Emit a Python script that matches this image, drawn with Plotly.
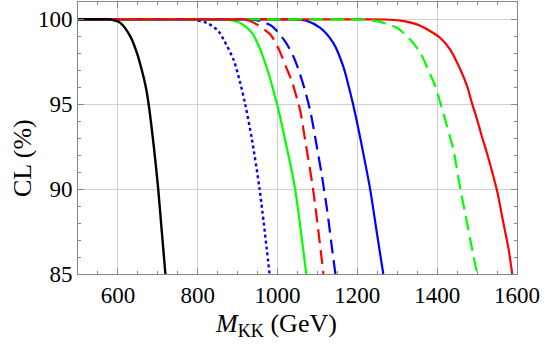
import plotly.graph_objects as go

# Data (M_KK in GeV, CL in %)
black_m = [500, 550, 580, 606, 631, 648, 660, 670, 677, 690, 701, 719]
black_cl = [100, 100, 100, 99.79, 99.0, 98.0, 97.0, 96.0, 95.0, 92.5, 90, 85]

bdot_m = [500, 600, 700, 760, 790, 823, 852, 865, 890, 906, 919, 936, 955, 980]
bdot_cl = [100, 100, 100, 100, 99.97, 99.79, 99.3, 98.8, 97.6, 96.3, 95.0, 92.9, 90, 85]

gsol_m = [500, 600, 700, 800, 850, 878, 906, 936, 957, 975, 992, 1005, 1018, 1030, 1044, 1072]
gsol_cl = [100, 100, 100, 100, 100, 99.97, 99.79, 99.2, 98.2, 97.0, 95.6, 94.4, 93.0, 91.7, 90, 85]

rdash_m = [500, 600, 700, 800, 880, 910, 930, 948, 982, 1002, 1023, 1036, 1049, 1057, 1069, 1089, 1115]
rdash_cl = [100, 100, 100, 100, 100, 100, 99.92, 99.7, 99.1, 98.3, 97.1, 96.35, 95.3, 94.6, 92.9, 90, 85]

bdash_m = [500, 600, 700, 800, 900, 935, 960, 986, 1019, 1040, 1053, 1069, 1082, 1094, 1111, 1124, 1136, 1145]
bdash_cl = [100, 100, 100, 100, 100, 99.98, 99.88, 99.6, 98.7, 97.8, 97.0, 95.8, 94.6, 93.1, 90.8, 88.8, 86.6, 85]

bsol_m = [500, 600, 700, 800, 900, 1000, 1040, 1070, 1107, 1140, 1165, 1182, 1195, 1209, 1232, 1249, 1265]
bsol_cl = [100, 100, 100, 100, 100, 100, 99.99, 99.93, 99.5, 98.6, 97.2, 95.7, 94.4, 92.8, 90, 87.4, 85]

gdash_m = [500, 600, 700, 800, 900, 1000, 1100, 1180, 1225, 1257, 1299, 1333, 1358, 1378, 1395, 1408, 1420, 1433, 1441, 1458, 1470, 1483, 1491, 1500]
gdash_cl = [100, 100, 100, 100, 100, 100, 100, 100, 99.97, 99.85, 99.5, 98.8, 98.0, 97.0, 96.06, 95.08, 94.1, 93.0, 92.3, 90, 88.6, 87.0, 86.06, 85]

rsol_m = [500, 600, 700, 800, 900, 1000, 1100, 1200, 1270, 1308, 1349, 1383, 1408, 1433, 1458, 1475, 1487, 1500, 1512, 1525, 1538, 1550, 1566, 1579, 1588]
rsol_cl = [100, 100, 100, 100, 100, 100, 100, 100, 99.99, 99.92, 99.7, 99.3, 98.9, 98.2, 97.04, 96.06, 95.08, 94.1, 93.1, 92.1, 91.0, 89.9, 88.0, 86.45, 85]

x_ticks = [600, 800, 1000, 1200, 1400, 1600]
y_ticks = [85, 90, 95, 100]

series = [
    (bdot_m, bdot_cl, "#0000FF", "3px,3px", 2.4),
    (gsol_m, gsol_cl, "#00FF00", "solid", 2.2),
    (bsol_m, bsol_cl, "#0000FF", "solid", 2.2),
    (rsol_m, rsol_cl, "#FF0000", "solid", 2.2),
    (bdash_m, bdash_cl, "#0000FF", "14px,7px", 2.2),
    (gdash_m, gdash_cl, "#00FF00", "14px,7px", 2.2),
    (rdash_m, rdash_cl, "#FF0000", "14px,7px", 2.2),
    (black_m, black_cl, "#000000", "solid", 2.4),
]

fig = go.Figure()
for xm, ycl, col, dash, w in series:
    fig.add_trace(go.Scatter(x=xm, y=ycl, mode="lines",
                             line=dict(color=col, dash=dash, width=w,
                                       shape="spline", smoothing=0.8),
                             showlegend=False, hoverinfo="skip"))

FAMILY = "Liberation Serif, serif"

def mkfont(size):
    return dict(family=FAMILY, size=size, color="black")

for ax, tv, rng, mdt in (("x", x_ticks, [500, 1600], 50), ("y", y_ticks, [85, 101.02], 1)):
    upd = dict(range=rng, tickmode="array", tickvals=tv, ticktext=[str(v) for v in tv],
               showline=True, linecolor="#888888", linewidth=1, mirror="allticks",
               ticks="inside", tickcolor="#888888", ticklen=6,
               showgrid=True, gridcolor="#d0d0d0", gridwidth=1, zeroline=False,
               tickfont=mkfont(23),
               minor=dict(ticks="inside", ticklen=3, tickcolor="#888888",
                          showgrid=False, dtick=mdt))
    if ax == "x":
        fig.update_xaxes(**upd)
    else:
        fig.update_yaxes(**upd)

fig.add_annotation(text="<i>M</i><sub>KK</sub> (GeV)", xref="paper", yref="paper",
                   x=0.452, y=-0.188, xanchor="center", yanchor="middle",
                   showarrow=False, font=mkfont(26))
fig.add_annotation(text="CL (%)", xref="paper", yref="paper",
                   x=-0.125, y=0.427, xanchor="center", yanchor="middle",
                   textangle=-90, showarrow=False, font=mkfont(26))

fig.update_layout(width=545, height=344, margin=dict(l=78, r=28, t=2, b=70),
                  plot_bgcolor="white", paper_bgcolor="white", font=mkfont(23))

fig.write_html("out.html", config={"displayModeBar": False},
               post_script="document.body.style.margin='0';document.body.style.overflow='hidden';")
